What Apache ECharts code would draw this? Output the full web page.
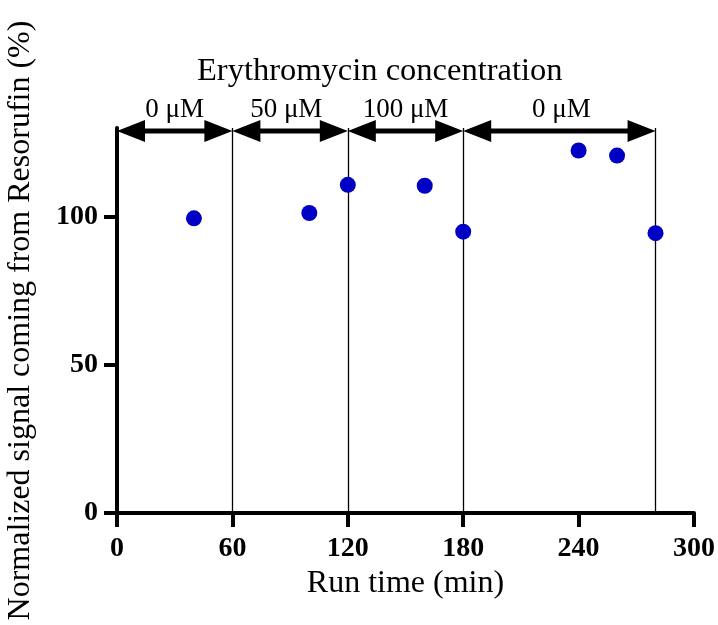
<!DOCTYPE html>
<html>
<head>
<meta charset="utf-8">
<script src="https://cdn.jsdelivr.net/npm/echarts@6/dist/echarts.min.js"></script>
<style>
  html, body { margin: 0; padding: 0; background: #fff; }
  #main { width: 718px; height: 625px; }
</style>
</head>
<body>
<div id="main"></div>
<script>
  // measured points
  var runTime = [40, 100, 120, 160, 180, 240, 260, 280];
  var signal = [99.5, 101.3, 110.8, 110.5, 95.0, 122.4, 120.7, 94.5];

  // concentration periods (arrows on top)
  var segStart = [0, 60, 120, 180];
  var segEnd = [60, 120, 180, 280];
  var segLabelX = [30, 88, 150, 231];
  var segLabel = ['0 μM', '50 μM', '100 μM', '0 μM'];
  var arrowY = 129;

  // thin vertical separators
  var sepX = [60, 120, 180, 280];

  var yTicks = [0, 50, 100];

  var serif = 'Liberation Serif, Times New Roman, serif';

  var segData = segStart.map(function (s, i) {
    return [s, segEnd[i], arrowY, segLabelX[i], segLabel[i]];
  });

  var chart = echarts.init(document.getElementById('main'));

  chart.setOption({
    animation: false,
    backgroundColor: '#ffffff',
    title: {
      text: 'Erythromycin concentration',
      left: 192,
      top: 50,
      textStyle: { fontFamily: serif, fontSize: 32.5, fontWeight: 'normal', color: '#000' }
    },
    grid: { left: 117, right: 24, top: 128, bottom: 112, containLabel: false, outerBoundsMode: 'none' },
    xAxis: {
      type: 'value',
      min: 0,
      max: 300,
      interval: 60,
      name: 'Run time (min)',
      nameLocation: 'middle',
      nameGap: 52,
      nameTextStyle: { fontFamily: serif, fontSize: 32, color: '#000' },
      axisLine: { show: true, lineStyle: { color: '#000', width: 4 } },
      axisTick: { show: true, length: 14, lineStyle: { color: '#000', width: 4 } },
      axisLabel: { margin: 22, fontFamily: serif, fontSize: 28, fontWeight: 'bold', color: '#000' },
      splitLine: { show: false }
    },
    yAxis: {
      type: 'value',
      min: 0,
      max: 130,
      interval: 50,
      name: 'Normalized signal coming from Resorufin (%)',
      nameLocation: 'middle',
      nameGap: 80,
      nameTextStyle: { fontFamily: serif, fontSize: 32, color: '#000' },
      axisLine: { show: true, lineStyle: { color: '#000', width: 4 } },
      axisTick: { show: true, length: 13, customValues: yTicks, lineStyle: { color: '#000', width: 4 } },
      axisLabel: { margin: 19, customValues: yTicks, fontFamily: serif, fontSize: 28, fontWeight: 'bold', color: '#000' },
      splitLine: { show: false }
    },
    series: [
      {
        type: 'scatter',
        data: runTime.map(function (t, i) { return [t, signal[i]]; }),
        symbol: 'circle',
        symbolSize: 16,
        itemStyle: { color: '#0000c4', opacity: 1 },
        z: 5,
        markLine: {
          silent: true,
          symbol: ['none', 'none'],
          label: { show: false },
          lineStyle: { color: '#000', width: 1.3, type: 'solid' },
          data: sepX.map(function (x) { return { xAxis: x }; })
        }
      },
      {
        type: 'custom',
        data: segData,
        encode: { x: [0, 1], y: 2 },
        z: 10,
        renderItem: function (params, api) {
          var p0 = api.coord([api.value(0), api.value(2)]);
          var p1 = api.coord([api.value(1), api.value(2)]);
          var pl = api.coord([api.value(3), api.value(2)]);
          var hl = 28, hw = 11;
          return {
            type: 'group',
            children: [
              {
                type: 'line',
                shape: { x1: p0[0] + hl - 2, y1: p0[1], x2: p1[0] - hl + 2, y2: p1[1] },
                style: { stroke: '#000', lineWidth: 5 }
              },
              {
                type: 'polygon',
                shape: { points: [[p0[0], p0[1]], [p0[0] + hl, p0[1] - hw], [p0[0] + hl, p0[1] + hw]] },
                style: { fill: '#000' }
              },
              {
                type: 'polygon',
                shape: { points: [[p1[0], p1[1]], [p1[0] - hl, p1[1] - hw], [p1[0] - hl, p1[1] + hw]] },
                style: { fill: '#000' }
              },
              {
                type: 'text',
                style: {
                  x: pl[0],
                  y: pl[1] - 21,
                  text: api.value(4),
                  fill: '#000',
                  font: '27px ' + serif,
                  textAlign: 'center',
                  textVerticalAlign: 'middle'
                }
              }
            ]
          };
        }
      }
    ]
  });
</script>
</body>
</html>
